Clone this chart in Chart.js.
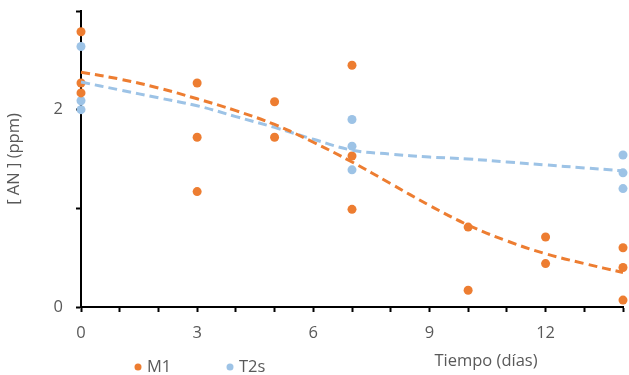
<!DOCTYPE html>
<html>
<head>
<meta charset="utf-8">
<script src="https://cdn.jsdelivr.net/npm/chart.js@4.4.1/dist/chart.umd.min.js"></script>
<style>
  html, body { margin: 0; padding: 0; background: #fff; }
  #wrap { position: relative; width: 629px; height: 375px; }
</style>
</head>
<body>
<div id="wrap"><canvas id="chart" width="629" height="375"></canvas></div>
<script>
/* AN concentration vs time — M1 / T2s with polynomial trend lines */

// raw measurements
const M1_DAYS  = [0, 0, 0, 3, 3, 3, 5, 5, 7, 7, 7, 10, 10, 12, 12, 14, 14, 14];
const M1_PPM   = [2.79, 2.27, 2.17, 2.27, 1.72, 1.17, 2.08, 1.72, 2.45, 1.53, 0.99, 0.81, 0.17, 0.71, 0.44, 0.60, 0.40, 0.07];
const T2S_DAYS = [0, 0, 0, 7, 7, 7, 14, 14, 14];
const T2S_PPM  = [2.64, 2.09, 2.00, 1.90, 1.63, 1.39, 1.54, 1.36, 1.20];

// trend lines at each day
const TREND_DAYS = [0, 1, 2, 3, 4, 5, 6, 7, 8, 9, 10, 11, 12, 13, 14];
const TREND_M1   = [2.38, 2.31, 2.22, 2.11, 1.99, 1.85, 1.67, 1.47, 1.25, 1.03, 0.83, 0.67, 0.54, 0.44, 0.35];
const TREND_T2S  = [2.28, 2.20, 2.12, 2.04, 1.93, 1.82, 1.70, 1.59, 1.55, 1.52, 1.50, 1.47, 1.44, 1.41, 1.38];

const X_LABEL_STEP = 3;
const Y_LABEL_STEP = 2;

const ORANGE = '#ED7D31';
const BLUE   = '#9DC3E6';
const TEXT   = '#595959';
const FONT_FAMILY = '"Open Sans", sans-serif';
const FONT_SIZE = 16.5;

const pts = (xs, ys) => xs.map((x, i) => ({ x, y: ys[i] }));

// Excel-style legend + axis title placed where the original has them
const extras = {
  id: 'extras',
  afterDraw(chart) {
    const { ctx } = chart;
    ctx.save();
    ctx.font = FONT_SIZE + 'px ' + FONT_FAMILY;
    ctx.fillStyle = TEXT;
    ctx.textBaseline = 'middle';
    ctx.textAlign = 'center';
    ctx.fillText('Tiempo (días)', 486, 361);

    const items = [
      { label: 'M1',  color: ORANGE, x: 138 },
      { label: 'T2s', color: BLUE,   x: 230 },
    ];
    ctx.textAlign = 'left';
    items.forEach(it => {
      ctx.beginPath();
      ctx.fillStyle = it.color;
      ctx.arc(it.x, 367, 3.5, 0, Math.PI * 2);
      ctx.fill();
      ctx.fillStyle = TEXT;
      ctx.fillText(it.label, it.x + 9, 367);
    });
    ctx.restore();
  }
};

const axisStyle = {
  grid: { display: true, drawOnChartArea: false, drawTicks: true, tickLength: 5, tickColor: '#000', tickWidth: 2 },
  border: { display: true, color: '#000', width: 2 },
};

new Chart(document.getElementById('chart'), {
  type: 'scatter',
  data: {
    datasets: [
      { label: 'M1 trend', type: 'line', data: pts(TREND_DAYS, TREND_M1),
        borderColor: ORANGE, borderWidth: 3, borderDash: [9, 5], pointRadius: 0,
        tension: 0.4, fill: false, clip: false, order: 1 },
      { label: 'T2s trend', type: 'line', data: pts(TREND_DAYS, TREND_T2S),
        borderColor: BLUE, borderWidth: 3, borderDash: [9, 5], pointRadius: 0,
        tension: 0.4, fill: false, clip: false, order: 2 },
      { label: 'M1', data: pts(M1_DAYS, M1_PPM),
        backgroundColor: ORANGE, borderWidth: 0, pointRadius: 4.5, clip: false, order: 3 },
      { label: 'T2s', data: pts(T2S_DAYS, T2S_PPM),
        backgroundColor: BLUE, borderWidth: 0, pointRadius: 4.5, clip: false, order: 4 },
    ],
  },
  options: {
    responsive: false, animation: false,
    layout: { padding: { top: 11, right: 6, left: 0, bottom: 0 } },
    plugins: { legend: { display: false }, tooltip: { enabled: false } },
    scales: {
      x: {
        type: 'linear', min: 0, max: 14,
        ...axisStyle,
        ticks: {
          stepSize: 1, autoSkip: false, maxRotation: 0, padding: 11,
          color: TEXT, font: { family: FONT_FAMILY, size: FONT_SIZE },
          callback: v => (v % X_LABEL_STEP === 0 ? String(v) : ''),
        },
        afterFit: s => { s.height = 68; s.paddingLeft = 0; s.paddingRight = 0; },
      },
      y: {
        min: 0, max: 3,
        ...axisStyle,
        title: { display: true, text: '[ AN ] (ppm)', color: TEXT, font: { family: FONT_FAMILY, size: FONT_SIZE } },
        ticks: {
          stepSize: 1, autoSkip: false, padding: 13,
          color: TEXT, font: { family: FONT_FAMILY, size: FONT_SIZE },
          callback: v => (v % Y_LABEL_STEP === 0 ? String(v) : ''),
        },
        afterFit: s => { s.width = 81; s.paddingTop = 0; s.paddingBottom = 0; },
      },
    },
  },
  plugins: [extras],
});
</script>
</body>
</html>
